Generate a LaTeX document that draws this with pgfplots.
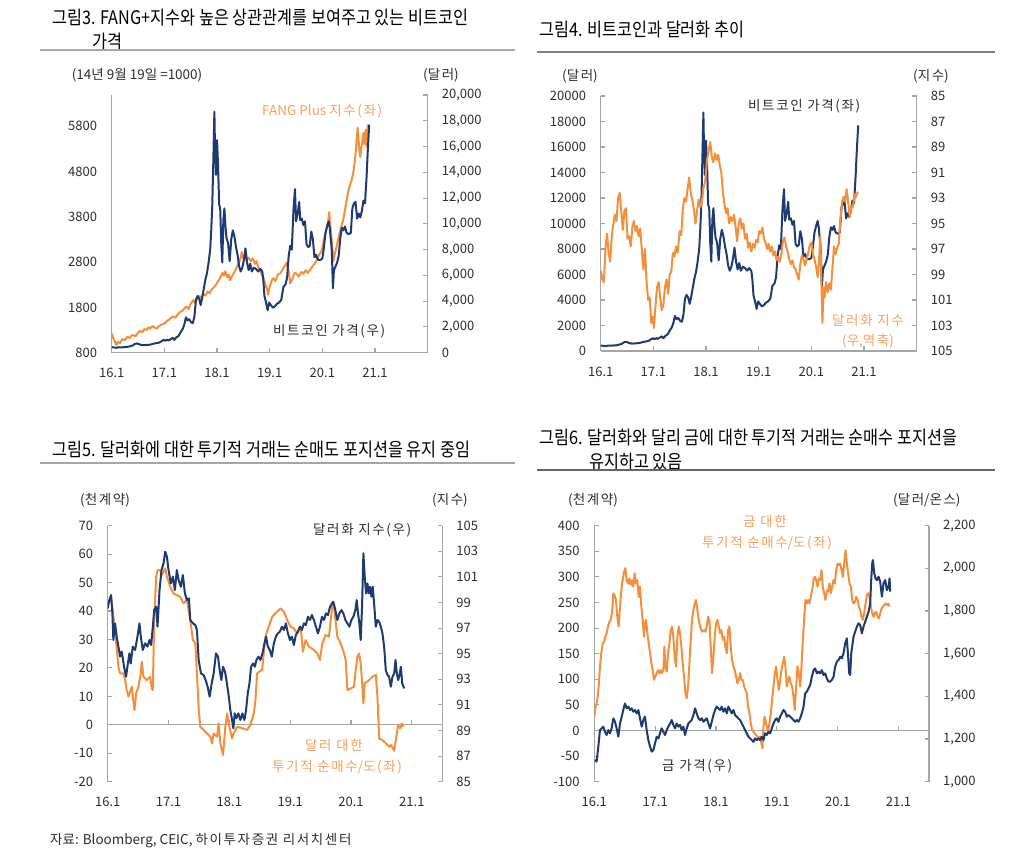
\documentclass[border=0pt]{standalone}
\usepackage{fontspec}
\setmainfont{Noto Sans CJK KR}
\newfontfamily\titlefont[FakeStretch=0.87]{Noto Sans CJK KR}
\newfontfamily\krl[LetterSpace=12]{Noto Sans CJK KR}
\newcommand\K[1]{{\krl #1}}
\usepackage{pgfplots}
\usepackage{pgfplotstable}
\pgfplotsset{compat=1.18}
\definecolor{navy}{RGB}{31,58,112}
\definecolor{orng}{RGB}{245,143,60}
\definecolor{orngtxt}{RGB}{245,160,95}
\definecolor{axgray}{RGB}{165,165,165}
\definecolor{txt}{RGB}{45,45,45}
\newcommand\lbl{\fontsize{13.5}{16}\selectfont}
\newcommand\ttl{\titlefont\fontsize{18.7}{21}\selectfont}

\pgfplotstableread{
x y
2016.00 1230
2016.03 1120
2016.06 1050
2016.09 970
2016.12 1040
2016.16 1010
2016.20 1100
2016.25 1080
2016.30 1150
2016.34 1120
2016.38 1180
2016.41 1190
2016.45 1160
2016.50 1240
2016.54 1280
2016.58 1250
2016.62 1320
2016.66 1300
2016.70 1360
2016.73 1330
2016.77 1390
2016.81 1360
2016.85 1330
2016.90 1390
2016.95 1420
2017.01 1450
2017.05 1500
2017.10 1540
2017.14 1580
2017.17 1600
2017.21 1570
2017.25 1640
2017.30 1700
2017.34 1720
2017.38 1780
2017.42 1820
2017.46 1760
2017.50 1880
2017.55 1960
2017.58 1900
2017.62 1990
2017.66 2050
2017.70 2010
2017.74 2100
2017.78 2060
2017.82 2150
2017.86 2110
2017.90 2200
2017.94 2240
2017.98 2300
2018.02 2380
2018.06 2450
2018.10 2560
2018.13 2500
2018.16 2600
2018.19 2470
2018.22 2520
2018.25 2400
2018.28 2480
2018.32 2560
2018.35 2620
2018.38 2700
2018.42 2800
2018.45 2900
2018.47 3020
2018.50 2880
2018.53 2950
2018.56 2840
2018.60 2900
2018.64 2820
2018.68 2880
2018.72 2760
2018.75 2820
2018.78 2700
2018.82 2600
2018.85 2520
2018.88 2450
2018.92 2300
2018.95 2200
2018.97 2080
2019.00 2250
2019.04 2400
2019.07 2440
2019.11 2380
2019.15 2520
2019.20 2550
2019.24 2620
2019.28 2700
2019.32 2780
2019.36 2600
2019.39 2330
2019.43 2420
2019.47 2560
2019.51 2540
2019.55 2480
2019.60 2580
2019.64 2540
2019.68 2620
2019.72 2560
2019.77 2630
2019.81 2700
2019.85 2760
2019.89 2840
2019.94 2960
2019.99 3060
2020.03 3300
2020.07 3500
2020.11 3700
2020.13 3900
2020.16 3500
2020.19 3100
2020.21 2820
2020.24 3000
2020.27 3140
2020.31 3350
2020.35 3550
2020.39 3700
2020.43 3950
2020.46 4170
2020.50 4400
2020.53 4520
2020.56 4620
2020.59 4800
2020.62 5050
2020.65 5500
2020.67 5760
2020.70 5300
2020.72 5120
2020.75 5400
2020.78 5650
2020.80 5400
2020.82 5720
2020.84 5350
2020.86 5800
2020.87 5830
}\fang

\pgfplotstableread{
x y
2016.00 430
2016.04 410
2016.08 380
2016.12 410
2016.16 420
2016.20 415
2016.25 440
2016.30 450
2016.35 500
2016.40 560
2016.44 680
2016.48 720
2016.52 660
2016.56 600
2016.60 580
2016.65 600
2016.70 610
2016.75 640
2016.80 710
2016.85 740
2016.90 780
2016.95 900
2016.99 1000
2017.02 920
2017.05 1010
2017.08 950
2017.12 1050
2017.16 1150
2017.19 1000
2017.23 1200
2017.27 1300
2017.31 1600
2017.35 1850
2017.38 2200
2017.41 2750
2017.44 2500
2017.47 2600
2017.51 2350
2017.54 2300
2017.57 2800
2017.60 4100
2017.63 4400
2017.66 4200
2017.69 3700
2017.72 4300
2017.75 5000
2017.78 5700
2017.81 6200
2017.84 7000
2017.87 8000
2017.89 9500
2017.91 11500
2017.93 15000
2017.95 18700
2017.96 16200
2017.98 13800
2018.00 16500
2018.02 14500
2018.04 11500
2018.06 11200
2018.08 8500
2018.10 7000
2018.12 10300
2018.14 11200
2018.16 9800
2018.18 8900
2018.21 8500
2018.24 7100
2018.27 8800
2018.30 9500
2018.33 9000
2018.36 8200
2018.39 7600
2018.42 6700
2018.45 6300
2018.48 6600
2018.51 7200
2018.54 8100
2018.57 7000
2018.60 6400
2018.63 6900
2018.66 6300
2018.70 6600
2018.74 6500
2018.78 6300
2018.82 6500
2018.86 6300
2018.88 5600
2018.90 4400
2018.93 3900
2018.96 3300
2018.99 3900
2019.02 3700
2019.06 3500
2019.10 3600
2019.14 3800
2019.18 3900
2019.22 4100
2019.26 5100
2019.30 5300
2019.33 5800
2019.36 7500
2019.39 8300
2019.42 8000
2019.45 11000
2019.48 12700
2019.50 10200
2019.53 10800
2019.56 11700
2019.58 10300
2019.61 10400
2019.64 9900
2019.67 10200
2019.70 8400
2019.73 8200
2019.76 8300
2019.79 9400
2019.82 8800
2019.85 7400
2019.88 7600
2019.92 7200
2019.96 7200
2020.00 7300
2020.03 8200
2020.06 9300
2020.09 9800
2020.12 10200
2020.14 9700
2020.16 8800
2020.18 7900
2020.20 5000
2020.22 6400
2020.25 6700
2020.28 7000
2020.31 7500
2020.34 8900
2020.37 9700
2020.40 9500
2020.43 9800
2020.46 9300
2020.50 9200
2020.54 9300
2020.57 11200
2020.60 11600
2020.63 11700
2020.66 10400
2020.69 10800
2020.72 10500
2020.75 11000
2020.78 11800
2020.81 11600
2020.84 13700
2020.86 15500
2020.88 17000
2020.89 17700
}\btc

\pgfplotstableread{
x y
2016.00 98.7
2016.03 99.4
2016.06 99.6
2016.09 97.0
2016.12 95.8
2016.15 97.3
2016.18 98.0
2016.21 96.0
2016.24 95.0
2016.27 94.3
2016.30 94.8
2016.33 93.0
2016.36 92.6
2016.39 94.0
2016.42 95.5
2016.45 94.0
2016.48 93.8
2016.51 96.2
2016.54 96.0
2016.57 96.8
2016.60 95.3
2016.63 94.8
2016.66 95.6
2016.69 95.2
2016.72 96.0
2016.75 95.4
2016.78 97.0
2016.81 98.6
2016.84 97.0
2016.87 99.5
2016.90 101.0
2016.93 100.8
2016.96 102.8
2016.99 102.3
2017.01 103.2
2017.04 101.5
2017.07 100.0
2017.10 99.6
2017.13 100.8
2017.16 101.8
2017.19 101.4
2017.22 100.0
2017.25 99.4
2017.28 100.5
2017.31 99.0
2017.34 98.8
2017.37 97.3
2017.40 97.6
2017.43 96.8
2017.46 97.3
2017.50 95.6
2017.53 95.9
2017.56 93.8
2017.59 93.0
2017.62 93.3
2017.65 92.3
2017.68 91.4
2017.71 92.6
2017.74 93.2
2017.77 93.9
2017.80 95.0
2017.83 94.0
2017.86 93.1
2017.89 93.7
2017.92 93.4
2017.95 92.2
2017.98 91.8
2018.02 90.0
2018.05 89.3
2018.08 88.6
2018.11 89.8
2018.14 90.2
2018.17 89.5
2018.20 90.0
2018.23 89.6
2018.26 90.4
2018.29 91.0
2018.32 92.6
2018.35 93.5
2018.38 94.2
2018.41 93.8
2018.44 95.0
2018.47 94.5
2018.50 94.8
2018.53 94.3
2018.56 95.2
2018.59 96.4
2018.62 95.0
2018.65 94.6
2018.68 95.4
2018.71 95.0
2018.74 96.2
2018.77 95.8
2018.80 96.9
2018.83 96.5
2018.86 97.2
2018.89 96.6
2018.92 96.9
2018.95 96.3
2018.98 96.5
2019.01 95.6
2019.04 95.8
2019.07 95.3
2019.10 96.2
2019.13 96.5
2019.16 97.0
2019.19 96.6
2019.22 97.2
2019.25 96.8
2019.28 97.5
2019.31 97.2
2019.34 97.9
2019.37 97.6
2019.40 98.0
2019.43 97.4
2019.46 96.4
2019.49 96.1
2019.52 96.8
2019.55 97.2
2019.58 97.8
2019.61 98.2
2019.64 97.9
2019.67 98.4
2019.70 98.6
2019.73 99.0
2019.76 99.4
2019.79 98.2
2019.82 97.5
2019.85 97.8
2019.88 98.3
2019.91 97.8
2019.94 97.3
2019.97 96.7
2020.00 96.5
2020.03 97.4
2020.06 97.8
2020.09 98.4
2020.12 99.2
2020.14 98.3
2020.17 96.0
2020.19 99.5
2020.21 102.8
2020.23 100.0
2020.25 100.8
2020.28 99.6
2020.31 100.4
2020.34 99.7
2020.37 100.2
2020.40 98.5
2020.43 96.8
2020.46 97.4
2020.49 96.9
2020.52 96.6
2020.55 94.8
2020.58 93.4
2020.61 92.9
2020.64 93.3
2020.67 92.3
2020.70 93.4
2020.73 94.5
2020.76 93.6
2020.79 93.7
2020.82 92.7
2020.85 92.9
2020.88 92.5
}\dxy

\pgfplotstableread{
x y
2016.000 98.54
2016.027 99.19
2016.055 99.58
2016.077 98.15
2016.093 96.07
2016.121 97.37
2016.148 96.33
2016.176 95.55
2016.203 94.77
2016.231 95.16
2016.269 93.98
2016.302 93.20
2016.324 93.98
2016.357 95.03
2016.379 94.24
2016.412 95.55
2016.451 95.29
2016.489 96.33
2016.522 97.37
2016.544 96.33
2016.577 95.29
2016.615 95.81
2016.654 95.55
2016.687 96.07
2016.714 95.68
2016.742 97.11
2016.764 98.41
2016.797 98.67
2016.819 97.11
2016.852 99.97
2016.885 101.54
2016.918 102.06
2016.945 102.97
2016.973 102.58
2017.000 101.54
2017.038 100.49
2017.071 101.02
2017.104 99.97
2017.137 101.54
2017.165 100.76
2017.203 100.23
2017.236 101.15
2017.269 99.71
2017.302 99.19
2017.335 99.32
2017.357 97.63
2017.401 97.37
2017.440 97.24
2017.467 96.85
2017.495 94.51
2017.533 93.46
2017.577 93.33
2017.610 92.94
2017.643 92.42
2017.676 91.64
2017.709 92.68
2017.742 93.46
2017.780 95.03
2017.813 94.77
2017.841 93.72
2017.868 92.94
2017.896 93.98
2017.929 93.59
2017.951 92.94
2017.984 91.90
2018.016 90.60
2018.044 89.82
2018.066 89.17
2018.088 90.34
2018.115 89.95
2018.148 90.34
2018.181 89.82
2018.214 90.34
2018.247 89.82
2018.275 90.60
2018.302 91.90
2018.330 92.68
2018.357 93.98
2018.390 94.24
2018.418 93.98
2018.445 94.51
2018.478 94.77
2018.511 94.51
2018.544 95.03
2018.577 95.81
2018.604 96.33
2018.632 95.55
2018.665 95.29
2018.698 94.77
2018.731 95.81
2018.764 96.33
2018.797 96.59
2018.830 96.72
2018.863 97.11
2018.896 96.85
2018.929 97.37
2018.962 96.59
2018.995 96.07
2019.027 96.33
2019.060 95.68
2019.093 96.46
2019.126 96.72
2019.159 97.11
2019.192 96.85
2019.225 97.37
2019.258 97.24
2019.291 97.89
2019.324 97.63
2019.357 98.02
2019.390 97.63
2019.423 97.11
2019.456 96.59
2019.489 97.11
2019.522 97.89
2019.555 97.63
2019.588 98.15
2019.621 98.02
2019.654 98.67
2019.687 98.93
2019.709 99.06
2019.742 98.41
2019.775 97.63
2019.808 98.15
2019.841 98.41
2019.874 98.15
2019.907 97.63
2019.940 97.37
2019.973 97.11
2020.005 97.63
2020.038 97.89
2020.071 98.41
2020.093 99.19
2020.115 98.15
2020.137 97.37
2020.159 96.07
2020.181 98.67
2020.203 102.84
2020.225 101.02
2020.247 99.71
2020.269 100.49
2020.291 99.71
2020.313 100.23
2020.335 99.45
2020.357 100.23
2020.379 98.93
2020.407 97.11
2020.434 97.63
2020.462 97.50
2020.489 97.11
2020.516 96.59
2020.544 95.55
2020.571 93.72
2020.599 93.33
2020.626 93.20
2020.654 92.42
2020.681 93.20
2020.709 93.46
2020.731 94.51
2020.753 93.46
2020.775 92.94
2020.797 93.33
2020.819 93.98
2020.841 92.68
2020.863 92.42
2020.874 92.29
}\dxyb

\pgfplotstableread{
x y
2016.055 45.0
2016.121 33.0
2016.176 20.4
2016.203 18.1
2016.258 18.1
2016.286 15.7
2016.313 12.2
2016.341 9.9
2016.396 13.4
2016.423 8.1
2016.440 5.2
2016.467 11.0
2016.505 13.4
2016.544 18.1
2016.560 22.2
2016.588 16.9
2016.643 15.7
2016.698 16.9
2016.725 12.8
2016.742 12.2
2016.764 36.8
2016.797 52.1
2016.819 54.4
2016.863 54.4
2016.890 52.7
2016.945 55.0
2016.973 52.1
2017.027 48.6
2017.082 46.2
2017.137 45.6
2017.192 45.0
2017.247 42.7
2017.302 43.9
2017.357 36.8
2017.401 29.8
2017.440 28.6
2017.467 18.1
2017.495 5.8
2017.522 -0.7
2017.577 -1.8
2017.632 -3.0
2017.687 -4.2
2017.714 -6.5
2017.742 -3.0
2017.797 -4.2
2017.824 0.5
2017.852 -6.5
2017.896 -10.6
2017.934 -0.7
2017.962 4.0
2018.000 -0.7
2018.044 -4.8
2018.071 -3.0
2018.126 -0.7
2018.209 -1.2
2018.291 -1.8
2018.346 -0.1
2018.401 4.0
2018.429 8.7
2018.456 18.1
2018.538 19.3
2018.593 31.0
2018.648 34.5
2018.703 38.0
2018.786 39.8
2018.841 40.9
2018.896 39.8
2018.951 36.8
2019.005 34.5
2019.060 33.9
2019.115 32.1
2019.170 34.5
2019.209 25.7
2019.253 29.8
2019.308 27.5
2019.390 26.3
2019.445 25.1
2019.489 22.8
2019.527 28.6
2019.582 31.6
2019.637 31.0
2019.692 42.1
2019.720 41.5
2019.775 31.0
2019.830 28.6
2019.885 25.1
2019.912 22.8
2019.940 12.2
2019.995 12.8
2020.049 13.4
2020.077 19.3
2020.104 23.9
2020.132 25.1
2020.159 21.6
2020.187 13.4
2020.203 7.5
2020.225 14.6
2020.297 15.7
2020.352 16.9
2020.407 17.5
2020.434 9.9
2020.462 -4.8
2020.516 -5.4
2020.571 -6.5
2020.626 -7.7
2020.654 -7.1
2020.709 -9.1
2020.753 -3.0
2020.775 -0.1
2020.808 -1.2
2020.835 0.5
2020.863 -0.7
}\usdpos

\pgfplotstableread{
x y
2016.011 1102
2016.038 1094
2016.066 1164
2016.093 1242
2016.121 1250
2016.148 1258
2016.175 1234
2016.203 1219
2016.230 1242
2016.258 1227
2016.285 1250
2016.313 1297
2016.340 1281
2016.367 1250
2016.395 1211
2016.422 1273
2016.450 1305
2016.477 1336
2016.504 1367
2016.532 1344
2016.559 1352
2016.587 1336
2016.614 1344
2016.641 1328
2016.669 1336
2016.696 1320
2016.724 1336
2016.751 1297
2016.779 1258
2016.806 1289
2016.833 1305
2016.861 1242
2016.888 1195
2016.916 1164
2016.943 1141
2016.970 1148
2016.998 1180
2017.025 1211
2017.053 1203
2017.080 1227
2017.107 1250
2017.135 1234
2017.162 1219
2017.190 1242
2017.217 1258
2017.245 1273
2017.272 1289
2017.299 1266
2017.327 1250
2017.354 1273
2017.382 1258
2017.409 1266
2017.436 1242
2017.464 1258
2017.491 1219
2017.519 1250
2017.546 1273
2017.573 1281
2017.601 1289
2017.628 1312
2017.656 1344
2017.683 1320
2017.711 1297
2017.738 1289
2017.765 1297
2017.793 1281
2017.820 1289
2017.848 1297
2017.875 1273
2017.902 1250
2017.930 1281
2017.957 1312
2017.985 1336
2018.012 1352
2018.039 1344
2018.067 1336
2018.094 1352
2018.122 1328
2018.149 1344
2018.177 1320
2018.204 1352
2018.231 1336
2018.259 1320
2018.286 1336
2018.314 1312
2018.341 1305
2018.368 1297
2018.396 1289
2018.423 1273
2018.451 1258
2018.478 1242
2018.505 1227
2018.533 1211
2018.560 1203
2018.588 1195
2018.615 1187
2018.643 1203
2018.670 1195
2018.697 1203
2018.725 1195
2018.752 1211
2018.780 1195
2018.807 1227
2018.834 1219
2018.862 1234
2018.889 1227
2018.917 1250
2018.944 1273
2018.971 1289
2018.999 1297
2019.026 1281
2019.054 1305
2019.081 1320
2019.109 1336
2019.136 1328
2019.163 1305
2019.191 1312
2019.218 1305
2019.246 1297
2019.273 1289
2019.300 1281
2019.328 1289
2019.355 1281
2019.383 1297
2019.410 1320
2019.438 1352
2019.465 1414
2019.492 1422
2019.520 1438
2019.547 1453
2019.575 1492
2019.602 1523
2019.629 1531
2019.657 1508
2019.684 1516
2019.712 1508
2019.739 1523
2019.766 1500
2019.794 1508
2019.821 1484
2019.849 1469
2019.876 1469
2019.904 1477
2019.931 1492
2019.958 1539
2019.986 1563
2020.013 1570
2020.041 1586
2020.068 1578
2020.095 1602
2020.123 1648
2020.150 1672
2020.167 1602
2020.189 1508
2020.205 1500
2020.222 1602
2020.238 1633
2020.260 1680
2020.287 1703
2020.315 1727
2020.342 1742
2020.370 1734
2020.397 1695
2020.424 1727
2020.452 1750
2020.479 1773
2020.507 1797
2020.534 1836
2020.550 1945
2020.567 2023
2020.578 2039
2020.600 1977
2020.622 1953
2020.644 1945
2020.671 1961
2020.698 1937
2020.726 1867
2020.753 1930
2020.781 1945
2020.808 1898
2020.835 1914
2020.852 1953
2020.863 1891
}\gold

\pgfplotstableread{
x y
2016.000 27
2016.022 46
2016.049 60
2016.071 85
2016.093 125
2016.115 151
2016.137 170
2016.159 173
2016.181 183
2016.203 190
2016.225 203
2016.247 212
2016.269 216
2016.291 229
2016.313 268
2016.334 264
2016.356 255
2016.378 222
2016.400 203
2016.422 242
2016.444 274
2016.466 294
2016.488 310
2016.510 317
2016.532 294
2016.554 287
2016.576 297
2016.598 284
2016.620 294
2016.641 281
2016.663 307
2016.685 287
2016.707 294
2016.729 261
2016.751 281
2016.773 242
2016.795 216
2016.817 183
2016.833 209
2016.850 216
2016.872 190
2016.894 170
2016.916 151
2016.938 131
2016.959 118
2016.981 99
2017.003 105
2017.025 112
2017.047 118
2017.069 112
2017.091 118
2017.113 112
2017.135 118
2017.151 164
2017.168 125
2017.190 115
2017.212 151
2017.234 170
2017.256 196
2017.277 203
2017.299 183
2017.321 144
2017.343 125
2017.365 183
2017.387 203
2017.409 190
2017.431 164
2017.453 131
2017.475 105
2017.497 73
2017.519 63
2017.541 86
2017.563 131
2017.584 177
2017.606 216
2017.628 235
2017.650 248
2017.672 255
2017.694 235
2017.716 216
2017.738 203
2017.760 196
2017.782 193
2017.804 196
2017.826 193
2017.848 203
2017.870 222
2017.891 216
2017.913 164
2017.935 112
2017.957 144
2017.979 183
2018.001 209
2018.023 216
2018.045 203
2018.067 190
2018.089 196
2018.111 177
2018.133 183
2018.155 164
2018.177 151
2018.198 196
2018.220 203
2018.242 164
2018.264 138
2018.286 125
2018.308 118
2018.330 105
2018.352 92
2018.374 99
2018.396 112
2018.418 99
2018.440 99
2018.462 86
2018.484 79
2018.505 73
2018.527 47
2018.549 34
2018.571 14
2018.593 1
2018.615 -2
2018.637 -6
2018.659 -9
2018.681 -12
2018.703 -15
2018.725 -12
2018.747 -25
2018.763 -35
2018.780 7
2018.796 27
2018.813 20
2018.834 7
2018.856 -2
2018.878 14
2018.900 34
2018.922 60
2018.944 86
2018.966 112
2018.988 125
2019.010 99
2019.032 79
2019.054 99
2019.076 118
2019.098 131
2019.120 144
2019.141 125
2019.163 86
2019.185 99
2019.207 105
2019.229 92
2019.251 86
2019.273 66
2019.295 40
2019.317 86
2019.339 125
2019.361 112
2019.383 86
2019.405 125
2019.427 177
2019.448 216
2019.470 255
2019.492 248
2019.514 255
2019.536 248
2019.558 261
2019.580 274
2019.602 294
2019.624 300
2019.646 294
2019.668 281
2019.690 297
2019.712 294
2019.734 313
2019.755 281
2019.777 268
2019.799 255
2019.821 274
2019.843 271
2019.865 287
2019.887 268
2019.909 281
2019.931 294
2019.953 287
2019.975 313
2019.997 326
2020.019 323
2020.041 326
2020.063 313
2020.085 300
2020.106 326
2020.128 352
2020.150 326
2020.172 307
2020.194 287
2020.216 281
2020.238 255
2020.260 248
2020.282 251
2020.304 261
2020.326 255
2020.348 242
2020.370 235
2020.392 222
2020.413 216
2020.435 229
2020.457 248
2020.479 265
2020.501 268
2020.523 261
2020.545 242
2020.567 229
2020.589 222
2020.611 229
2020.633 232
2020.655 222
2020.677 219
2020.699 229
2020.720 238
2020.742 242
2020.764 245
2020.786 248
2020.808 245
2020.830 248
2020.852 242
}\goldpos

\pgfplotsset{
  panel/.style={scale only axis, anchor=south west,
    tick align=inside, major tick length=4.5pt,
    scaled y ticks=false, scaled x ticks=false,
    axis line style={-, draw=axgray, line width=1.3pt},
    tick style={draw=axgray, line width=1.1pt},
    tick label style={font=\fontsize{13}{15}\selectfont, text=txt, inner sep=0pt},
    xtick={2016,2017,2018,2019,2020,2021},
    xticklabels={16.1,17.1,18.1,19.1,20.1,21.1}},
  leftax/.style={axis y line*=left, yticklabel style={anchor=east, xshift=-14.5pt}},
  rightax/.style={axis y line*=right, axis x line=none, xtick=\empty,
    yticklabel style={anchor=west, xshift=14pt}},
  navyl/.style={navy, line width=2pt, no marks, line join=round},
  orngl/.style={orng, line width=2pt, no marks, line join=round},
}

\begin{document}
\begin{tikzpicture}
% ---------- Panel 1 ----------
\begin{axis}[panel, leftax, axis x line*=bottom, at={(111.7pt,510.3pt)}, width=316pt, height=257.7pt,
  xticklabel style={anchor=center, yshift=-20pt},
  xmin=2016, xmax=2022, ymin=800, ymax=6485,
  ytick={800,1800,2800,3800,4800,5800}, yticklabels={800,1800,2800,3800,4800,5800},
  ytick style={draw=none}]
\addplot[orngl] table[x=x,y=y] {\fang};
\end{axis}
\begin{axis}[panel, rightax, at={(111.7pt,510.3pt)}, width=316pt, height=257.7pt,
  xmin=2016, xmax=2022, ymin=0, ymax=20000,
  ytick={0,2000,4000,6000,8000,10000,12000,14000,16000,18000,20000},
  yticklabels={0,{2,000},{4,000},{6,000},{8,000},{10,000},{12,000},{14,000},{16,000},{18,000},{20,000}}]
\addplot[navyl] table[x=x,y=y] {\btc};
\end{axis}
% ---------- Panel 2 ----------
\begin{axis}[panel, leftax, axis x line*=bottom, at={(600.7pt,512pt)}, width=316pt, height=255pt,
  xticklabel style={anchor=center, yshift=-20.7pt},
  xmin=2016, xmax=2022, ymin=0, ymax=20000,
  ytick={0,2000,4000,6000,8000,10000,12000,14000,16000,18000,20000},
  yticklabels={0,2000,4000,6000,8000,10000,12000,14000,16000,18000,20000}]
\addplot[navyl] table[x=x,y=y] {\btc};
\end{axis}
\begin{axis}[panel, rightax, at={(600.7pt,512pt)}, width=316pt, height=255pt,
  xmin=2016, xmax=2022, ymin=85, ymax=105, y dir=reverse,
  ytick={85,87,89,91,93,95,97,99,101,103,105},
  yticklabels={85,87,89,91,93,95,97,99,101,103,105}]
\addplot[orngl] table[x=x,y=y] {\dxy};
\end{axis}
% ---------- Panel 3 ----------
\begin{axis}[panel, leftax, axis x line*=middle, hide obscured x ticks=false,
  at={(107.7pt,81.3pt)}, width=334.6pt, height=256pt,
  xmin=2016, xmax=2021.5, ymin=-20, ymax=70,
  xticklabel style={anchor=center, yshift=-76.9pt},
  ytick={-20,-10,0,10,20,30,40,50,60,70},
  yticklabels={-20,-10,0,10,20,30,40,50,60,70}]
\addplot[orngl] table[x=x,y=y] {\usdpos};
\end{axis}
\begin{axis}[panel, rightax, at={(107.7pt,81.3pt)}, width=334.6pt, height=256pt,
  xmin=2016, xmax=2021.5, ymin=85, ymax=105,
  ytick={85,87,89,91,93,95,97,99,101,103,105},
  yticklabels={85,87,89,91,93,95,97,99,101,103,105}]
\addplot[navyl] table[x=x,y=y] {\dxyb};
\end{axis}
% ---------- Panel 4 ----------
\begin{axis}[panel, leftax, axis x line*=middle, hide obscured x ticks=false,
  at={(594.3pt,81.3pt)}, width=334.7pt, height=256pt,
  xmin=2016, xmax=2021.5, ymin=-100, ymax=400,
  xticklabel style={anchor=center, yshift=-71.2pt},
  ytick={-100,-50,0,50,100,150,200,250,300,350,400},
  yticklabels={-100,-50,0,50,100,150,200,250,300,350,400}]
\addplot[orngl] table[x=x,y=y] {\goldpos};
\end{axis}
\begin{axis}[panel, rightax, at={(594.3pt,81.3pt)}, width=334.7pt, height=256pt,
  xmin=2016, xmax=2021.5, ymin=1000, ymax=2200,
  ytick={1000,1200,1400,1600,1800,2000,2200},
  yticklabels={{1,000},{1,200},{1,400},{1,600},{1,800},{2,000},{2,200}}]
\addplot[navyl] table[x=x,y=y] {\gold};
\end{axis}

% ---------- Titles ----------
\begin{scope}[every node/.style={inner sep=0pt, anchor=west, text=black}]
\node[font=\ttl] at (52pt,845pt) {그림3. FANG+지수와 높은 상관관계를 보여주고 있는 비트코인};
\node[font=\ttl] at (92pt,822pt) {가격};
\node[font=\ttl] at (539pt,833pt) {그림4. 비트코인과 달러화 추이};
\node[font=\ttl] at (52pt,413pt) {그림5. 달러화에 대한 투기적 거래는 순매도 포지션을 유지 중임};
\node[font=\ttl] at (539pt,425pt) {그림6. 달러화와 달리 금에 대한 투기적 거래는 순매수 포지션을};
\node[font=\ttl] at (589pt,402pt) {유지하고 있음};
\node[font=\lbl, text=txt] at (50pt,22pt) {자료: Bloomberg, CEIC, \K{하이투자증권 리서치센터}};
% panel 1 labels
\node[font=\lbl, text=txt] at (71.7pt,787.3pt) {(14\K{년} 9\K{월} 19\K{일} =1000)};
\node[font=\lbl, text=txt] at (423pt,787.3pt) {(\K{달러})};
\node[font=\lbl, text=orngtxt] at (262pt,752pt) {FANG Plus \K{지수(좌)}};
\node[font=\lbl, text=txt] at (273pt,532pt) {\K{비트코인 가격(우)}};
% panel 2 labels
\node[font=\lbl, text=txt] at (562pt,786.3pt) {(\K{달러})};
\node[font=\lbl, text=txt] at (913pt,786.3pt) {(\K{지수})};
\node[font=\lbl, text=txt] at (748pt,756.3pt) {\K{비트코인 가격(좌)}};
\node[font=\lbl, text=orngtxt] at (832pt,543pt) {\K{달러화 지수}};
\node[font=\lbl, text=orngtxt] at (842pt,521.3pt) {(\K{우},\K{역축})};
% panel 3 labels
\node[font=\lbl, text=txt] at (80pt,362.3pt) {(\K{천계약})};
\node[font=\lbl, text=txt] at (432pt,362.3pt) {(\K{지수})};
\node[font=\lbl, text=txt] at (313pt,333pt) {\K{달러화 지수(우)}};
\node[font=\lbl, text=orngtxt] at (305pt,117.3pt) {\K{달러 대한}};
\node[font=\lbl, text=orngtxt] at (272pt,95.7pt) {\K{투기적 순매수}/\K{도(좌)}};
% panel 4 labels
\node[font=\lbl, text=txt] at (568pt,362.3pt) {(\K{천계약})};
\node[font=\lbl, text=txt] at (893pt,362.3pt) {(\K{달러}/\K{온스})};
\node[font=\lbl, text=orngtxt, anchor=center] at (765pt,341.3pt) {\K{금 대한}};
\node[font=\lbl, text=orngtxt] at (702pt,319.7pt) {\K{투기적 순매수}/\K{도(좌)}};
\node[font=\lbl, text=txt] at (662pt,97pt) {\K{금 가격(우)}};
\end{scope}
\draw[color=black!35, line width=2.2pt] (40pt,813pt) -- (515pt,813pt);
\draw[color=black!50, line width=2.2pt] (537pt,811pt) -- (995pt,811pt);
\draw[color=black!35, line width=2.2pt] (40pt,400pt) -- (515pt,400pt);
\draw[color=black!60, line width=2.2pt] (537pt,393pt) -- (995pt,393pt);

\pgfresetboundingbox
\useasboundingbox (0pt,0pt) rectangle (1026pt,863pt);
\end{tikzpicture}
\end{document}
